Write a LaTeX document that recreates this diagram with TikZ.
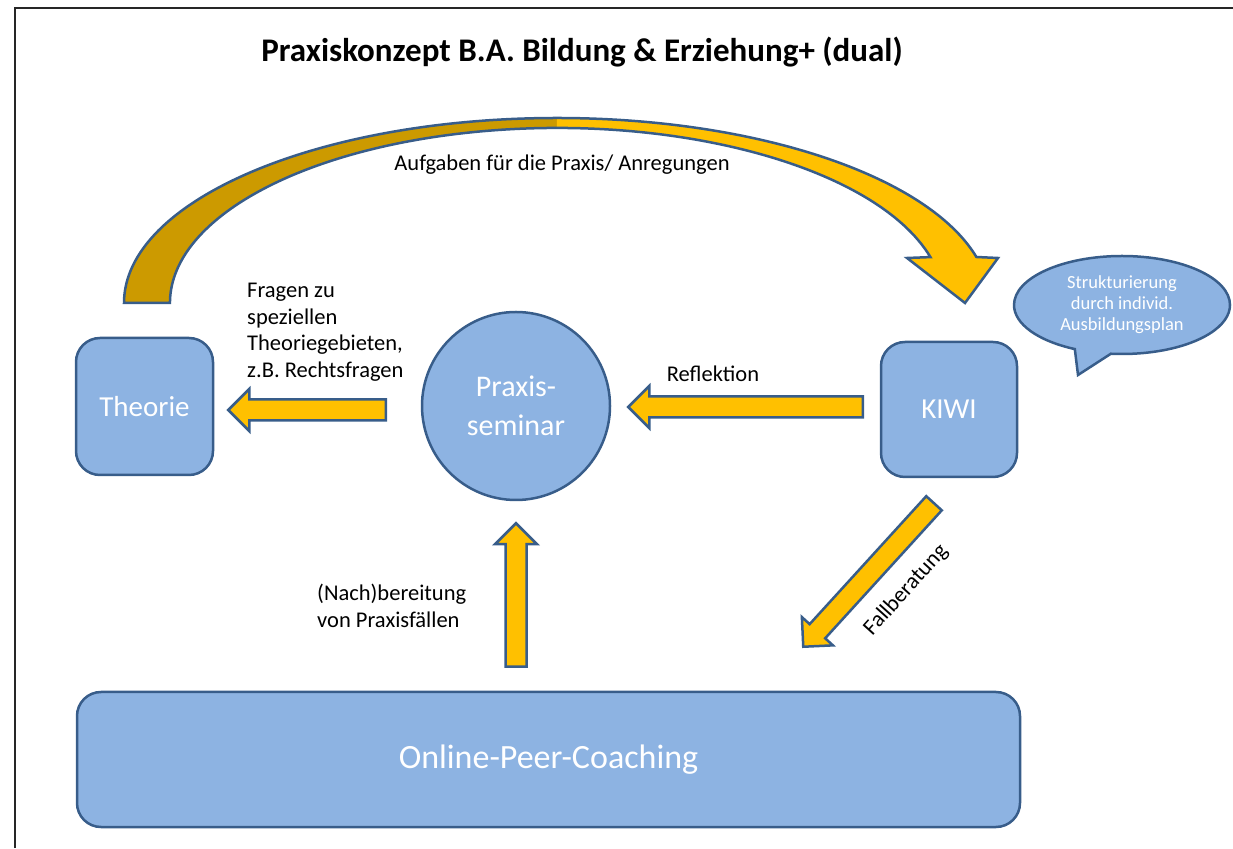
\documentclass[tikz,border=0pt]{standalone}
\usepackage{fontspec}
\setmainfont{Carlito}
\usetikzlibrary{calc,shapes.callouts}

\definecolor{boxfill}{HTML}{8DB3E2}
\definecolor{boxline}{HTML}{385D8A}
\definecolor{gold}{HTML}{FFC000}
\definecolor{darkgold}{HTML}{CC9A00}

\newcommand{\blockarrow}[2]{%
  \coordinate (ba-h) at ($(#2)!21pt!(#1)$);
  \draw[barrow] ($(#1)!10.5pt!90:(#2)$) -- ($(ba-h)!10.5pt!90:(#2)$) -- ($(ba-h)!21pt!90:(#2)$) -- (#2)
    -- ($(ba-h)!21pt!-90:(#2)$) -- ($(ba-h)!10.5pt!-90:(#2)$) -- ($(#1)!10.5pt!-90:(#2)$) -- cycle;}

\begin{document}
\begin{tikzpicture}[x=1pt, y=1pt,
			box/.style={draw=boxline, line width=2.5pt, fill=boxfill, rounded corners=24pt,
				text=white, font=\fontsize{29}{34}\selectfont},
			barrow/.style={draw=boxline, line width=2.5pt, fill=gold, line join=miter},
			lbl/.style={font=\fontsize{22.5}{26.5}\selectfont, inner sep=0pt}]

			\useasboundingbox (0,0) rectangle (1233,848);
			\draw[line width=2pt, black!85] (15,0) -- (15,840) -- (1233,840);

			\node[font=\bfseries\fontsize{33}{40}\selectfont] (Title) at (582,796)
				{Praxiskonzept B.A. Bildung \& Erziehung+ (dual)};

			\node[box, minimum width=137, minimum height=137] (Theorie) at (144.5,441.5) {Theorie};
			\node[box, circle, minimum size=188, align=center, font=\fontsize{30}{39}\selectfont]
				(Seminar) at (516,442) {Praxis-\\seminar};
			\node[box, minimum width=136, minimum height=135] (Kiwi) at (949,438.5) {KIWI};
			\node[box, minimum width=943, minimum height=135, font=\fontsize{34}{40}\selectfont]
				(Coaching) at (548.5,88.5) {Online-Peer-Coaching};
			\node[ellipse callout, draw=boxline, line width=2.5pt, fill=boxfill, text=white,
				minimum width=216, minimum height=98, inner sep=0pt, align=center,
				callout absolute pointer={(1078,473)}, callout pointer arc=20,
				font=\fontsize{18.5}{21}\selectfont]
				(Bubble) at (1122,543) {Strukturierung\\durch individ.\\Ausbildungsplan};

			\fill[darkgold] (124,545) arc[start angle=180, end angle=90, x radius=433, y radius=185]
				-- (557,720) arc[start angle=90, end angle=180, x radius=387, y radius=175] -- cycle;
			\fill[gold] (557,730) arc[start angle=90, end angle=14.4, x radius=433, y radius=185]
				-- (998,590) -- (965,545) -- (907,590) -- (930.4,590.9)
				arc[start angle=15.2, end angle=90, x radius=387, y radius=175] -- cycle;
			\draw[draw=boxline, line width=2.5pt] (124,545)
				arc[start angle=180, end angle=14.4, x radius=433, y radius=185]
				-- (998,590) -- (965,545) -- (907,590) -- (930.4,590.9)
				arc[start angle=15.2, end angle=180, x radius=387, y radius=175] -- cycle;

			\coordinate (f1) at ($(Seminar.west)+(-35,-4)$);
			\coordinate (f2) at ($(Theorie.east)+(14,-3.5)$);
			\coordinate (r1) at ($(Kiwi.west)+(-17,2.5)$);
			\coordinate (r2) at ($(Seminar.east)+(17,-1)$);
			\coordinate (n1) at ($(Coaching.north)+(-32.5,24)$);
			\coordinate (n2) at ($(Seminar.south)+(0,-22)$);
			\coordinate (k1) at ($(Kiwi.south)+(-15,-25)$);
			\coordinate (k2) at ($(Coaching.north east)+(-218,44)$);

			\blockarrow{f1}{f2}
			\blockarrow{r1}{r2}
			\blockarrow{n1}{n2}
			\blockarrow{k1}{k2}

			\node[lbl] (Aufgaben) at (562,683) {Aufgaben für die Praxis/ Anregungen};
			\node[lbl, align=left, anchor=west] (Fragen) at (247,516)
				{Fragen zu\\speziellen\\Theoriegebieten,\\z.B. Rechtsfragen};
			\node[lbl] (Reflektion) at (713,474) {Reflektion};
			\node[lbl, align=left, anchor=west] (Nach) at (317,242) {(Nach)bereitung\\von Praxisfällen};
			\node[lbl, rotate=48] (Fall) at (906,258) {Fallberatung};

		\end{tikzpicture}
\end{document}
